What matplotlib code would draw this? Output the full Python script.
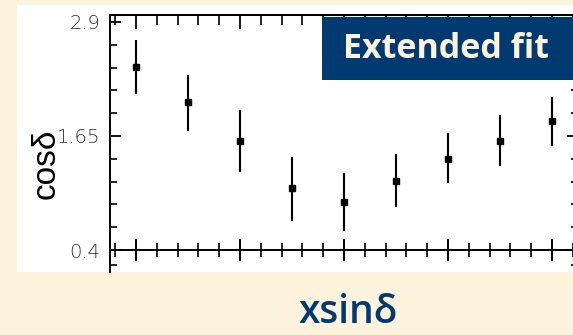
import matplotlib
matplotlib.use("Agg")
import matplotlib.pyplot as plt
from matplotlib.patches import Rectangle
from matplotlib.ticker import FixedLocator, MultipleLocator

# ---- data ----
x_index = [0, 1, 2, 3, 4, 5, 6, 7, 8]
cos_delta = [2.41, 2.02, 1.60, 1.08, 0.93, 1.16, 1.40, 1.60, 1.81]
err_low = [0.30, 0.31, 0.34, 0.36, 0.32, 0.29, 0.27, 0.28, 0.27]
err_high = [0.29, 0.30, 0.34, 0.34, 0.31, 0.29, 0.28, 0.28, 0.27]
y_major = [0.4, 1.65, 2.9]
y_tick_labels = ["0.4", "1.65", "2.9"]
box_text = "Extended fit"
xlabel_text = "xsin\u03b4"
ylabel_text = "cos\u03b4"

W, H = 573, 335
BG = "#fdf2dc"
NAVY = "#003a70"

fig = plt.figure(figsize=(W / 100, H / 100), dpi=100)
fig.patch.set_facecolor(BG)

def fx(px):
    return px / W

def fy(py):
    return 1 - py / H

# white panel
fig.add_artist(Rectangle((fx(17), fy(272)), fx(573 - 17) + 0.01, (272 - 5) / H,
                         transform=fig.transFigure, facecolor="white",
                         edgecolor="none", zorder=0))

ax_left, ax_right, ax_top, ax_bot = 110, 578, 15, 272
ax = fig.add_axes([fx(ax_left), fy(ax_bot), (ax_right - ax_left) / W,
                   (ax_bot - ax_top) / H])
ax.set_facecolor("none")

ax.errorbar(x_index, cos_delta, yerr=[err_low, err_high], fmt="s", color="black",
            ms=4.6, elinewidth=1.5, capsize=0, zorder=3)

ax.set_xlim(-0.5, 8.5)
ax.set_ylim(0.4 - 22 / 91.2, 0.4 + 235 / 91.2)

for s in ["left", "top", "right"]:
    ax.spines[s].set_linewidth(1.4)
ax.spines["bottom"].set_position(("data", 0.4))
ax.spines["bottom"].set_linewidth(1.4)

ax.xaxis.set_major_locator(MultipleLocator(2))
ax.xaxis.set_minor_locator(MultipleLocator(0.4))
ax.tick_params(axis="x", which="major", direction="inout", length=16, width=1.4,
               labelbottom=False, bottom=True, top=False)
ax.tick_params(axis="x", which="minor", direction="inout", length=10, width=1.2,
               bottom=True, top=False)

ax.yaxis.set_major_locator(FixedLocator(y_major))
ax.set_yticklabels(y_tick_labels)
ax.yaxis.set_minor_locator(FixedLocator([0.24, 0.65, 0.9, 1.15, 1.4, 1.9, 2.15, 2.4, 2.65]))
ax.tick_params(axis="y", which="major", direction="in", length=8, width=1.3,
               left=True, right=True, labelsize=14, labelcolor="#333333", pad=7)
ax.tick_params(axis="y", which="minor", direction="in", length=5, width=1.2,
               left=True, right=True)
for lab in ax.get_yticklabels():
    lab.set_family("DejaVu Sans")
    lab.set_fontweight("light")

top = ax.secondary_xaxis("top")
top.xaxis.set_major_locator(MultipleLocator(2))
top.xaxis.set_minor_locator(MultipleLocator(0.4))
top.tick_params(which="major", direction="in", length=10, width=1.3, labeltop=False)
top.tick_params(which="minor", direction="in", length=7, width=1.2)
top.spines["top"].set_linewidth(1.4)

# y label
fig.text(fx(46), fy(164), ylabel_text, rotation=90, ha="center", va="center",
         fontsize=24, family=["Liberation Sans", "DejaVu Sans"], color="black")

# label box
fig.add_artist(Rectangle((fx(322), fy(80)), fx(260), (80 - 17) / H,
                         transform=fig.transFigure, facecolor=NAVY,
                         edgecolor="none", zorder=5))
fig.text(fx(343), fy(49), box_text, ha="left", va="center", fontsize=24.5,
         fontweight="bold", family="Open Sans", color="#fdf2dc", zorder=6)

# x label
fig.text(fx(348), fy(313), xlabel_text, ha="center", va="center", fontsize=28,
         fontweight="semibold", family="Open Sans", color=NAVY)

fig.savefig("out.png", dpi=100, facecolor=BG)
